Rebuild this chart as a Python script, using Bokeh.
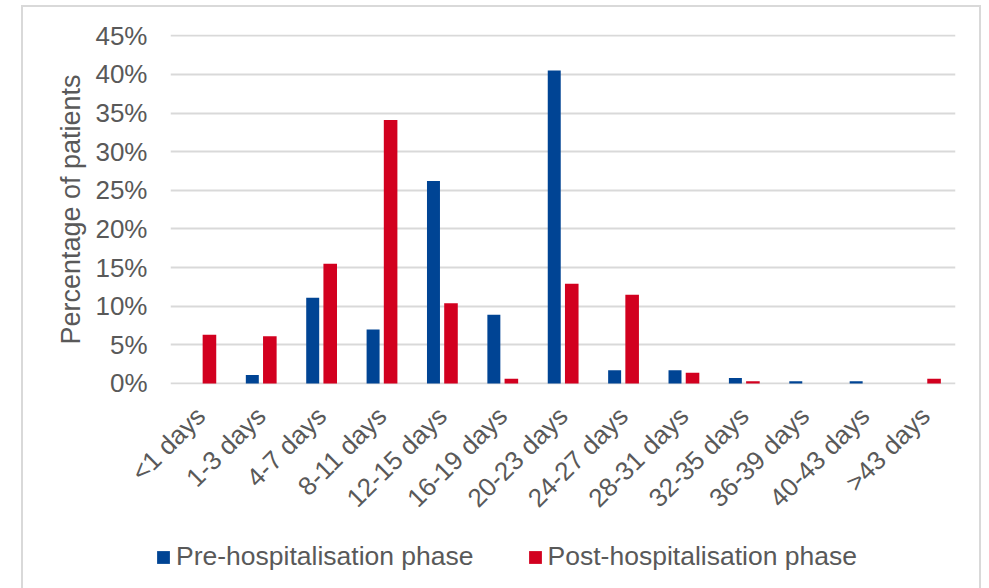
import math

from bokeh.embed import file_html
from bokeh.layouts import column
from bokeh.models import (ColumnDataSource, FactorRange, FixedTicker, Legend,
                          LegendItem, NumeralTickFormatter, Range1d)
from bokeh.plotting import figure
from bokeh.resources import INLINE
from bokeh.transform import dodge

# Time-to-event buckets and the share of patients in each phase
categories = ["<1 days", "1-3 days", "4-7 days", "8-11 days", "12-15 days",
              "16-19 days", "20-23 days", "24-27 days", "28-31 days",
              "32-35 days", "36-39 days", "40-43 days", ">43 days"]
pre_hospitalisation = [0.0, 0.011, 0.111, 0.070, 0.262, 0.089, 0.405,
                       0.017, 0.017, 0.007, 0.003, 0.003, 0.0]
post_hospitalisation = [0.063, 0.061, 0.155, 0.341, 0.104, 0.006, 0.129,
                        0.115, 0.014, 0.003, 0.0, 0.0, 0.006]
y_ticks = [0.0, 0.05, 0.10, 0.15, 0.20, 0.25, 0.30, 0.35, 0.40, 0.45]
series_labels = ["Pre-hospitalisation phase", "Post-hospitalisation phase"]

BLUE = "#004494"
RED = "#d2001f"
TEXT = "#595959"
GRID = "#d9d9d9"
FONT = "Liberation Sans"

source = ColumnDataSource(dict(cat=categories, pre=pre_hospitalisation,
                               post=post_hospitalisation))

# Main bar chart
p = figure(
    width=956, height=530,
    x_range=FactorRange(factors=categories, range_padding=0),
    y_range=Range1d(-0.0013, 0.4517),
    output_backend="svg", toolbar_location=None,
    min_border_left=147, min_border_right=24,
    min_border_top=27, min_border_bottom=153,
)
p.outline_line_color = None
p.background_fill_color = "white"
p.border_fill_color = "white"

p.vbar(x=dodge("cat", -0.145, range=p.x_range), top="pre", width=0.215,
       source=source, fill_color=BLUE, line_color=None)
p.vbar(x=dodge("cat", 0.145, range=p.x_range), top="post", width=0.225,
       source=source, fill_color=RED, line_color=None)

p.xgrid.grid_line_color = None
p.ygrid.ticker = FixedTicker(ticks=y_ticks)
p.ygrid.grid_line_color = GRID
p.ygrid.grid_line_width = 2

p.yaxis.ticker = FixedTicker(ticks=y_ticks)
p.yaxis.formatter = NumeralTickFormatter(format="0%")
p.yaxis.axis_line_color = None
p.yaxis.major_tick_line_color = None
p.yaxis.minor_tick_line_color = None
p.yaxis.major_tick_out = 0
p.yaxis.major_tick_in = 0
p.yaxis.major_label_standoff = 23
p.yaxis.major_label_text_font = FONT
p.yaxis.major_label_text_font_size = "26px"
p.yaxis.major_label_text_color = TEXT
p.yaxis.axis_label = "Percentage of patients"
p.yaxis.axis_label_text_font = FONT
p.yaxis.axis_label_text_font_size = "27px"
p.yaxis.axis_label_text_font_style = "normal"
p.yaxis.axis_label_text_color = TEXT
p.yaxis.axis_label_standoff = 6

p.xaxis.axis_line_color = None
p.xaxis.major_tick_line_color = None
p.xaxis.minor_tick_line_color = None
p.xaxis.major_tick_out = 0
p.xaxis.major_tick_in = 0
p.xaxis.major_label_orientation = math.pi / 4
p.xaxis.major_label_standoff = 27
p.xaxis.major_label_text_font = FONT
p.xaxis.major_label_text_font_size = "26px"
p.xaxis.major_label_text_color = TEXT

# Legend strip below the chart; its key glyphs share the data source but
# sit below this strip's visible y-range, so only the legend shows.
q = figure(
    width=956, height=51,
    x_range=FactorRange(factors=categories, range_padding=0),
    y_range=Range1d(1, 2),
    output_backend="svg", toolbar_location=None,
    min_border_left=0, min_border_right=0,
    min_border_top=0, min_border_bottom=0,
)
q.axis.visible = False
q.grid.visible = False
q.outline_line_color = None
q.border_fill_color = "white"
q.background_fill_color = "white"
key_pre = q.vbar(x="cat", top="pre", width=0.2, source=source,
                 fill_color=BLUE, line_color=None)
key_post = q.vbar(x="cat", top="post", width=0.2, source=source,
                  fill_color=RED, line_color=None)
q.add_layout(Legend(
    items=[LegendItem(label=series_labels[0], renderers=[key_pre]),
           LegendItem(label=series_labels[1], renderers=[key_post])],
    location=(132, 16),
    orientation="horizontal",
    glyph_width=16, glyph_height=16,
    label_standoff=5, spacing=53,
    padding=0, margin=0,
    label_text_font=FONT, label_text_font_size="26.5px",
    label_text_color=TEXT,
    border_line_color=None, background_fill_alpha=0,
), "center")

chart = column(p, column(q, spacing=0), spacing=0)
chart.margin = (5, 0, 0, 21)
chart.styles = {"border-top": "2px solid #d9d9d9",
                "border-left": "2px solid #d9d9d9",
                "border-right": "2px solid #d9d9d9"}

open("out.html", "w").write(file_html(chart, INLINE))
